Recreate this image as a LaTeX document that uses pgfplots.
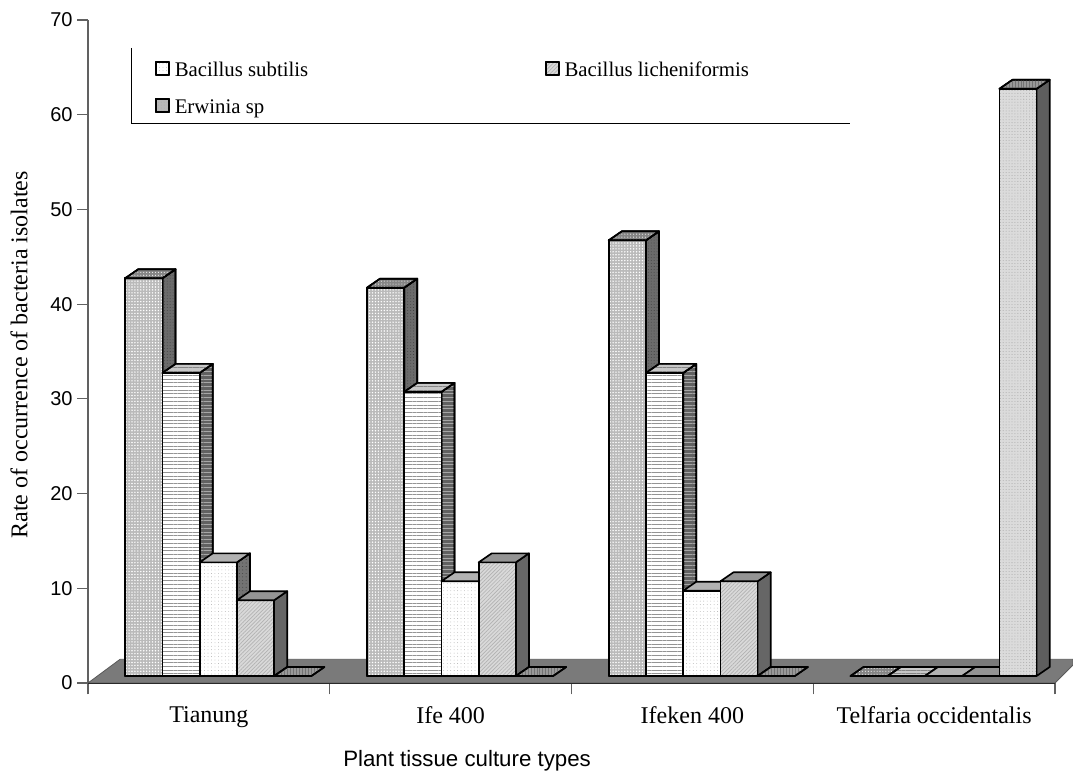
\documentclass[border=0pt]{standalone}
\usepackage{fontspec}
\setmainfont{Liberation Serif}
\newfontfamily\arialf{Liberation Sans}
\usepackage{pgfplots}
\pgfplotsset{compat=1.18}
\usetikzlibrary{patterns.meta}

% one reference pixel = 0.75pt
\definecolor{axgray}{gray}{0.38}
\tikzset{
  bar edge/.style={draw=black,line width=1.25pt,line join=round},
  front0/.style={bar edge,preaction={fill=black!27},pattern={Dots[distance=2.2pt,radius=0.6pt]},pattern color=white},
  top0/.style={bar edge,preaction={fill=black!48},pattern={Dots[distance=2.2pt,radius=0.4pt]},pattern color=white},
  side0/.style={bar edge,preaction={fill=black!58},pattern={Dots[distance=2.2pt,radius=0.3pt]},pattern color=black!80},
  front1/.style={bar edge,preaction={fill=white},pattern={Lines[angle=0,distance=2.8pt,line width=0.7pt]},pattern color=black!42},
  top1/.style={bar edge,preaction={fill=black!22},pattern={Lines[angle=0,distance=2.8pt,line width=0.7pt]},pattern color=black!48},
  side1/.style={bar edge,preaction={fill=black!62},pattern={Lines[angle=0,distance=2.8pt,line width=0.7pt]},pattern color=black!35},
  front2/.style={bar edge,preaction={fill=white},pattern={Dots[distance=2.6pt,radius=0.3pt]},pattern color=black!35},
  top2/.style={bar edge,fill=black!30},
  side2/.style={bar edge,preaction={fill=black!55},pattern={Dots[distance=2.6pt,radius=0.3pt]},pattern color=black!85},
  front3/.style={bar edge,preaction={fill=black!15},pattern={Lines[angle=45,distance=2pt,line width=0.5pt]},pattern color=black!30},
  top3/.style={bar edge,fill=black!42},
  side3/.style={bar edge,fill=black!60},
  front4/.style={bar edge,preaction={fill=black!14},pattern={Dots[distance=2.2pt,radius=0.4pt]},pattern color=black!32},
  top4/.style={bar edge,preaction={fill=black!40},pattern={Lines[angle=90,distance=2.2pt,line width=0.4pt]},pattern color=black!55},
  side4/.style={bar edge,fill=black!63},
}

% group (0..3), series (0..4), value; 0.1543 wide, 0.054/0.95 deep, front foot at 0.74
\newcommand{\threedbar}[3]{%
  \pgfmathsetmacro\xa{#1+0.154+#2*0.154}%
  \pgfmathsetmacro\xb{\xa+0.154}%
  \pgfmathsetmacro\xc{\xa+0.054}%
  \pgfmathsetmacro\xd{\xb+0.054}%
  \pgfmathsetmacro\ya{0.74}%
  \pgfmathsetmacro\yb{0.74+#3}%
  \pgfmathsetmacro\yc{\yb+0.95}%
  \pgfmathsetmacro\yd{\ya+0.95}%
  \ifdim#3pt>0pt
    \addplot[side#2,forget plot] coordinates {(\xb,\ya)(\xd,\yd)(\xd,\yc)(\xb,\yb)} --cycle;
    \addplot[front#2,forget plot] coordinates {(\xa,\ya)(\xb,\ya)(\xb,\yb)(\xa,\yb)} --cycle;
  \fi
  \addplot[top#2,forget plot] coordinates {(\xa,\yb)(\xb,\yb)(\xd,\yc)(\xc,\yc)} --cycle;
}

\begin{document}
\begin{tikzpicture}
\path[use as bounding box] (-66pt,-66pt) rectangle (738.75pt,512.25pt);
\begin{axis}[
  at={(0pt,0pt)},
  scale only axis,
  width=725.25pt,
  height=497.25pt,
  clip=false,
  xmin=0,xmax=4,
  ymin=0,ymax=70,
  axis y line=left,
  axis x line=bottom,
  y axis line style={-,draw=axgray,line width=1.1pt},
  x axis line style={-,draw=black,line width=0.9pt},
  tick align=outside,
  xtick={0.5,1.5,2.5,3.5},
  xticklabels={Tianung,Ife 400,Ifeken 400,Telfaria occidentalis},
  minor xtick={0,1,2,3,4},
  ytick={0,10,20,30,40,50,60,70},
  x tick style={draw=none},
  minor x tick style={draw=axgray,line width=0.9pt},
  minor tick length=8.5pt,
  y tick style={draw=axgray,line width=0.9pt},
  major tick length=8pt,
  /pgf/number format/assume math mode=true,
  xticklabel style={font=\fontsize{18}{20}\selectfont,yshift=-6.5pt},
  yticklabel style={font=\arialf\fontsize{15}{17}\selectfont},
  xlabel={Plant tissue culture types},
  xlabel style={font=\arialf\fontsize{16.7}{18}\selectfont,at={(axis description cs:0.392,-0.1176)},anchor=center},
  ylabel={Rate of occurrence of bacteria isolates},
  ylabel style={font=\fontsize{18}{20}\selectfont,at={(axis description cs:-0.0713,0.495)},anchor=center},
  legend columns=2,
  legend cell align=left,
  legend style={at={(axis description cs:0.065,0.945)},anchor=north west,draw=none,fill=none,
    font=\fontsize{15.6}{17}\selectfont,row sep=11.5pt,
    /tikz/column 1/.style={column sep=1.5pt},
    /tikz/column 3/.style={column sep=1.5pt},
    /tikz/column 2/.style={column sep=175.5pt}},
  legend image code/.code={\draw[#1,line width=1.5pt] (0pt,-3.5pt) rectangle (9.75pt,6.25pt);},
]
\addlegendimage{front2}
\addlegendentry{Bacillus subtilis}
\addlegendimage{front3}
\addlegendentry{Bacillus licheniformis}
\addlegendimage{front4,preaction={fill=black!28}}
\addlegendentry{Erwinia sp}

% floor, cut off by the picture edge
\addplot[fill=black!52,draw=black!65,line width=0.6pt,forget plot]
  coordinates {(0,0)(4,0)(4.0745,1.9)(4.0745,2.5)(0.1324,2.5)} --cycle;

% legend frame
\addplot[black,line width=0.75pt,forget plot] coordinates {(0.182,67.05)(0.182,59.03)(3.152,59.03)};

% Tianung
\threedbar{0}{0}{42}
\threedbar{0}{1}{32}
\threedbar{0}{2}{12}
\threedbar{0}{3}{8}
\threedbar{0}{4}{0}
% Ife 400
\threedbar{1}{0}{41}
\threedbar{1}{1}{30}
\threedbar{1}{2}{10}
\threedbar{1}{3}{12}
\threedbar{1}{4}{0}
% Ifeken 400
\threedbar{2}{0}{46}
\threedbar{2}{1}{32}
\threedbar{2}{2}{9}
\threedbar{2}{3}{10}
\threedbar{2}{4}{0}
% Telfaria occidentalis
\threedbar{3}{0}{0}
\threedbar{3}{1}{0}
\threedbar{3}{2}{0}
\threedbar{3}{3}{0}
\threedbar{3}{4}{62}
\end{axis}
\end{tikzpicture}
\end{document}
